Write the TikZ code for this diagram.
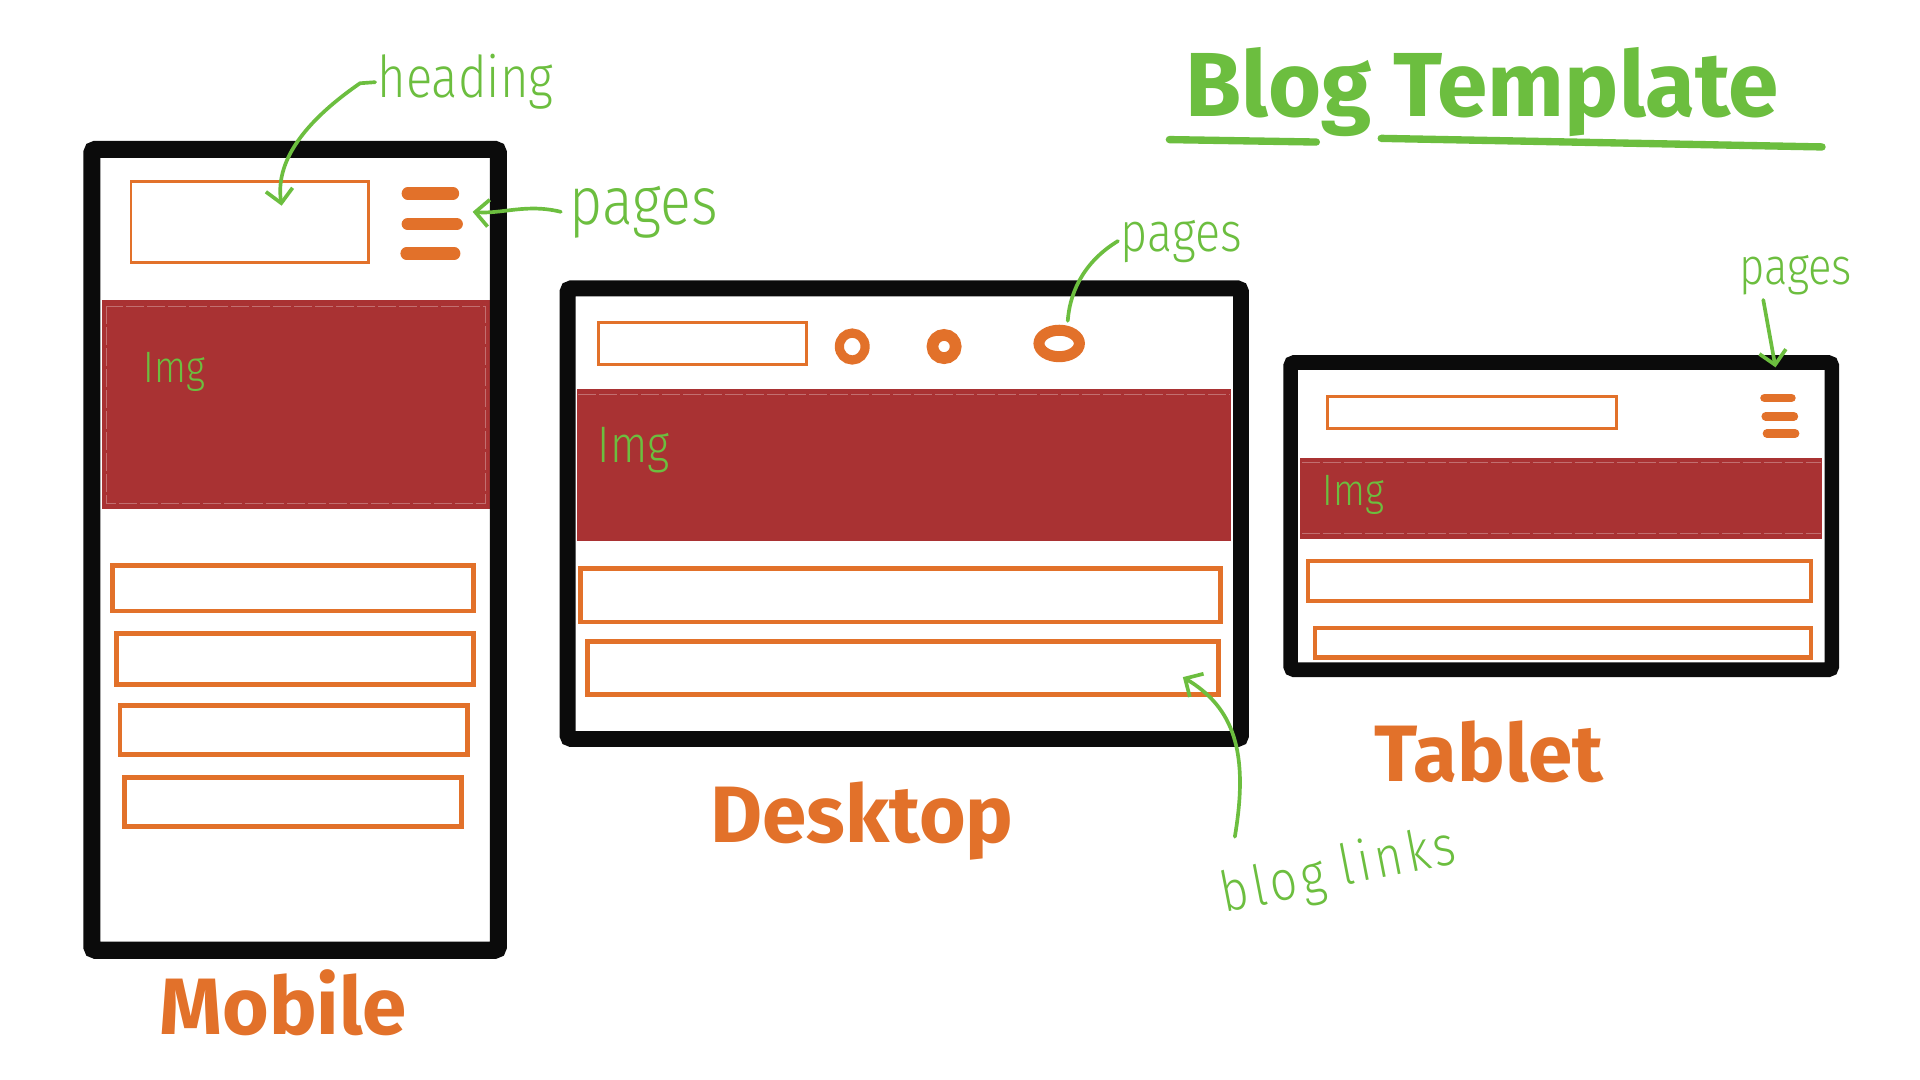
\documentclass[tikz,border=0pt]{standalone}
\usepackage{fontspec}
\setmainfont{Fira Sans}
\newfontfamily\handfont[FakeStretch=0.85]{Fira Sans Light}
\newfontfamily\widehand[FakeStretch=0.85, LetterSpace=8]{Fira Sans Light}
\usetikzlibrary{arrows.meta}

% one drawing unit
\newcommand\pxu{0.6122pt}

\definecolor{pen}{HTML}{6CBE3F}
\definecolor{marker}{HTML}{E2712A}
\definecolor{imgred}{HTML}{A93233}
\definecolor{ink}{HTML}{0B0B0B}

\tikzset{
  devframe/.style={draw=ink, line width=14*\pxu, rounded corners=3*\pxu},
  hdbox/.style={draw=marker, line width=2.4*\pxu},
  post/.style={draw=marker, line width=4*\pxu},
  imgblock/.style={fill=imgred},
  imgedge/.style={draw=white, opacity=0.3, line width=0.4pt, dash pattern=on 9pt off 1.5pt},
  menubar/.style={draw=marker, line width=10*\pxu, line cap=round},
  navring/.style={draw=marker, line width=7.5*\pxu},
  note/.style={text=pen, inner sep=0pt, anchor=base west},
  callout/.style={draw=pen, line width=3*\pxu, line cap=round, line join=round},
  tip/.style={-{Straight Barb[length=11*\pxu, width=22*\pxu, line width=3*\pxu]}},
  devlabel/.style={text=marker, inner sep=0pt, anchor=base west,
    font=\bfseries\fontsize{40}{40}\selectfont},
}

\begin{document}
\begin{tikzpicture}[x=0.6122pt, y=-0.6122pt]
\useasboundingbox (0,0) rectangle (1568,882);
\fill[white] (0,0) rectangle (1568,882);

% ---------- title ----------
\node[text=pen, inner sep=0pt, anchor=base west,
      font=\bfseries\fontsize{45.5}{45.5}\selectfont] (title) at (968,95) {Blog Template};
\draw[pen, line width=6*\pxu, line cap=round] (955,114) -- (1075,116);
\draw[pen, line width=6*\pxu, line cap=round] (1128,113) -- (1488,120);

% ---------- mobile ----------
\fill[imgblock] (83,245) rectangle (400,416);
\draw[imgedge] (87,250) rectangle (396,411);
\draw[hdbox] (107,148) rectangle (301,214);
\draw[menubar] (333,158) -- (370,158);
\draw[menubar] (333,183) -- (373,183);
\draw[menubar] (332,207) -- (371,207);
\draw[post] (92,462) rectangle (387,499);
\draw[post] (95,517) rectangle (387,559);
\draw[post] (98,576) rectangle (382,616);
\draw[post] (102,635) rectangle (377,675);
\draw[devframe] (75,122) rectangle (407,776);
\node[note, font=\handfont\fontsize{22}{22}\selectfont] (mimg) at (117,312) {Img};

\node[note, font=\handfont\fontsize{28.8}{28.8}\selectfont] (mheading) at (308,80) {heading};
\coordinate (mheadtip) at (230,168);
\draw[callout, tip] ([xshift=-1pt]mheading.west) -- (294,68)
  .. controls (255,95) and (224,128) .. (mheadtip);

\node[note, font=\handfont\fontsize{33.7}{33.7}\selectfont] (mpages) at (465,183) {pages};
\coordinate (mpagestip) at (386,173);
\draw[callout, tip] ([xshift=-7*\pxu]mpages.west) .. controls (430,166) and (410,175) .. (mpagestip);

\node[devlabel] (mobilelbl) at (130,845) {Mobile};

% ---------- desktop ----------
\fill[imgblock] (471,318) rectangle (1005,442);
\draw[imgedge] (472,322) -- (1004,322);
\draw[hdbox] (489,263) rectangle (659,298);
\draw[navring] (696,283) ellipse [x radius=10.5, y radius=11];
\draw[navring, line width=9.5*\pxu] (771,283) ellipse [x radius=9.5, y radius=9.5];
\draw[navring, line width=9*\pxu] (865,280.5) ellipse [x radius=16.5, y radius=10.8];
\draw[post] (474,464) rectangle (997,508);
\draw[post] (480,524) rectangle (995,567);
\draw[devframe, line width=13*\pxu] (463.5,235.5) rectangle (1013.5,603.5);
\node[note, font=\handfont\fontsize{25.7}{25.7}\selectfont] (dimg) at (488,378) {Img};

\node[note, font=\handfont\fontsize{27.5}{27.5}\selectfont] (dpages) at (915,205) {pages};
\coordinate (dnavtop) at (872,262);
\draw[callout] ([xshift=-2*\pxu]dpages.west) .. controls (888,212) and (874,235) .. (dnavtop);

\node[note, rotate=11, font=\widehand\fontsize{28}{28}\selectfont] (blogword) at (1000,745) {blog};
\node[note, rotate=11, font=\widehand\fontsize{28}{28}\selectfont] (linksword) at (1097,723) {links};
\coordinate (linkstip) at (966,553);
\draw[callout, tip] ([shift={(15,-28)}]blogword.north west)
  .. controls (1020,615) and (1008,578) .. (linkstip);

\node[devlabel] (desktoplbl) at (580,688) {Desktop};

% ---------- tablet ----------
\fill[imgblock] (1062,374) rectangle (1488,440);
\draw[imgedge] (1063,378) -- (1487,378);
\draw[imgedge] (1063,436) -- (1487,436);
\draw[hdbox] (1084,324) rectangle (1320,350);
\draw[menubar, line width=7*\pxu] (1441,325) -- (1463,325);
\draw[menubar, line width=7*\pxu] (1442,340) -- (1465,340);
\draw[menubar, line width=7*\pxu] (1443,354) -- (1466,354);
\draw[post, line width=3.5*\pxu] (1068,458) rectangle (1479,491);
\draw[post, line width=3.5*\pxu] (1074,513) rectangle (1479,537);
\draw[devframe, line width=12*\pxu] (1054,296) rectangle (1496,547);
\node[note, font=\handfont\fontsize{22}{22}\selectfont] (timg) at (1080,413) {Img};

\node[note, font=\handfont\fontsize{25.7}{25.7}\selectfont] (tpages) at (1420,232) {pages};
\coordinate (tpagestip) at (1450,300);
\draw[callout, tip] ([shift={(20,4)}]tpages.south west) -- (tpagestip);

\node[devlabel] (tabletlbl) at (1122,638) {Tablet};
\end{tikzpicture}
\end{document}
